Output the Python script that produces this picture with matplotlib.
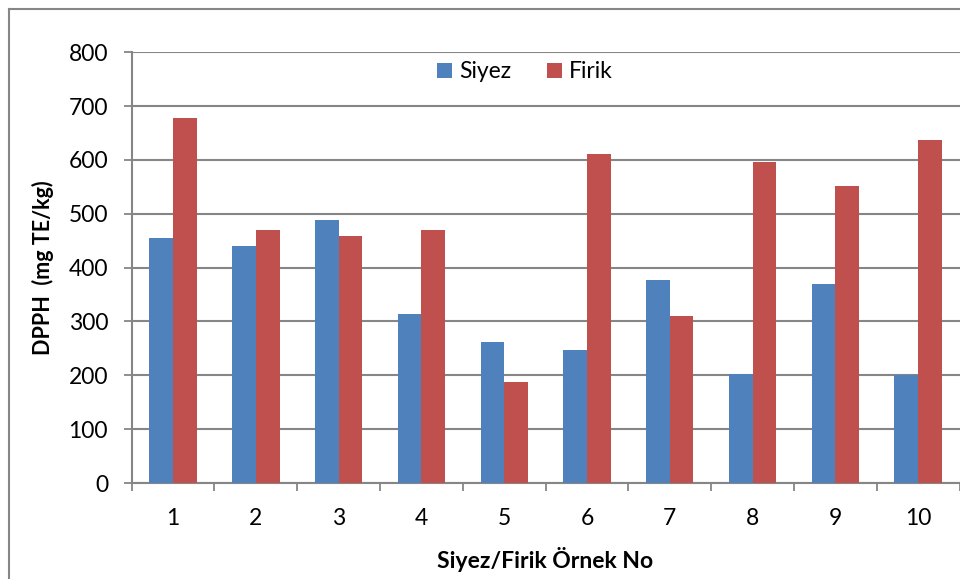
import matplotlib
matplotlib.use("Agg")
import matplotlib.pyplot as plt
from matplotlib.lines import Line2D
import numpy as np

samples = ["1", "2", "3", "4", "5", "6", "7", "8", "9", "10"]
siyez = [455, 440, 488, 314, 262, 247, 377, 202, 370, 200]
firik = [678, 470, 459, 470, 188, 611, 310, 596, 552, 637]
y_ticks = [0, 100, 200, 300, 400, 500, 600, 700, 800]

BLUE = "#4F81BD"
RED = "#C0504D"
GRID = "#868686"
FONT = "Lato"
FS = 16.5

W, H, DPI = 960, 579, 100
fig = plt.figure(figsize=(W / DPI, H / DPI), dpi=DPI)
fig.patch.set_facecolor("white")

# plot area in pixel coordinates
x0, x1 = 131.7, 959.5
y_top, y_bot = 52.3, 483.0
ax = fig.add_axes([x0 / W, 1 - y_bot / H, (x1 - x0) / W, (y_bot - y_top) / H])

pos = np.arange(1, len(samples) + 1)
bw = 1 / 3.5
ax.bar(pos - bw / 2, siyez, width=bw, color=BLUE, label="Siyez", zorder=3)
ax.bar(pos + bw / 2, firik, width=bw, color=RED, label="Firik", zorder=3)

ax.set_xlim(0.5, len(samples) + 0.5)
ax.set_ylim(0, 800)
ax.set_yticks(y_ticks)
ax.set_yticklabels([str(v) for v in y_ticks], fontsize=FS, family=FONT)
ax.yaxis.grid(True, color=GRID, linewidth=1.5, zorder=0)
ax.set_axisbelow(True)

# category boundary ticks, labels at the category centres
ax.set_xticks(np.arange(0.5, len(samples) + 1, 1))
ax.set_xticklabels([])
ax.set_xticks(pos, minor=True)
ax.set_xticklabels(samples, minor=True, fontsize=FS, family=FONT)
ax.tick_params(axis="x", which="major", length=6, width=1.3, color=GRID, direction="out")
ax.tick_params(axis="x", which="minor", length=0, pad=18)
ax.tick_params(axis="y", length=6, width=1.3, color=GRID, direction="out", pad=11)

for s in ("top", "right"):
    ax.spines[s].set_visible(False)
for s in ("left", "bottom"):
    ax.spines[s].set_color(GRID)
    ax.spines[s].set_linewidth(1.5)

fig.text(545 / W, 1 - 560 / H, "Siyez/Firik Örnek No", ha="center", va="center",
         fontsize=FS, fontweight="bold", family=FONT)
fig.text(43 / W, 1 - 268 / H, "DPPH  (mg TE/kg)", ha="center", va="center",
         rotation=90, fontsize=15.5, fontweight="bold", family=FONT)

fig.legend(loc="center", bbox_to_anchor=(525 / W, 1 - 72 / H), ncol=2, frameon=False,
           prop={"family": FONT, "size": FS}, handlelength=0.64, handleheight=0.64,
           handletextpad=0.32, columnspacing=1.55, borderpad=0.2)

# chart border (left and top edges)
fig.add_artist(Line2D([9 / W, 9 / W], [0, 1 - 9 / H], color=GRID, linewidth=1.5,
                      transform=fig.transFigure))
fig.add_artist(Line2D([9 / W, 1], [1 - 9 / H, 1 - 9 / H], color=GRID, linewidth=1.5,
                      transform=fig.transFigure))

fig.savefig("out.png", dpi=DPI)
